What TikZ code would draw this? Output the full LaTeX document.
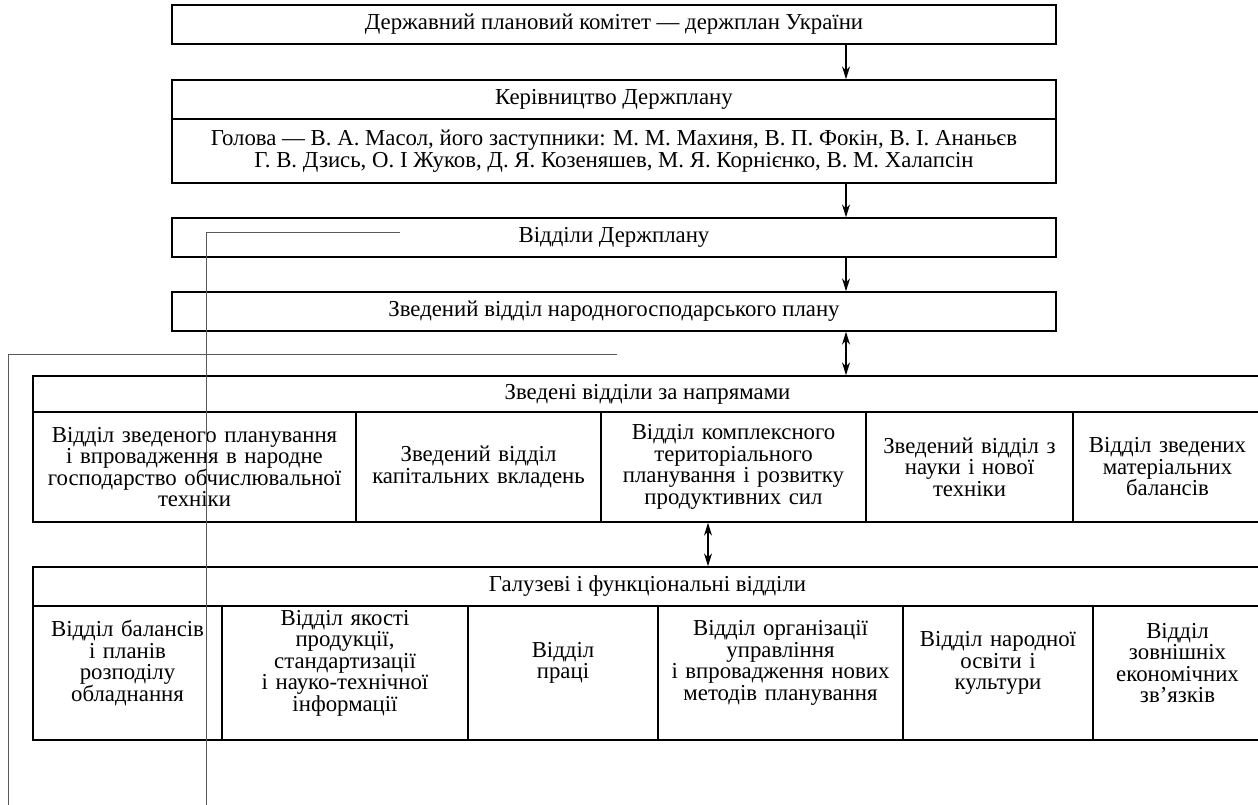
\documentclass[tikz,border=0pt]{standalone}
\usepackage{fontspec}
\setmainfont{Liberation Serif}
\usetikzlibrary{arrows.meta}

\begin{document}
\begin{tikzpicture}[x=1pt, y=-1pt, every node/.style={inner sep=0pt, align=center, font=\fontsize{22.8}{21.5}\selectfont}, box/.style={draw, line width=1.4pt, minimum width=884pt, minimum height=39pt}, cell/.style={draw, line width=1.4pt}, arr/.style={line width=1.4pt, -{Stealth[length=13pt, width=8pt]}}, both/.style={line width=1.4pt, {Stealth[length=13pt, width=8pt]}-{Stealth[length=13pt, width=8pt]}}, guide/.style={line width=0.9pt, black!65}]
    \useasboundingbox (0,0) rectangle (1258,805);

    \node[box] (plan) at (614,24.5) {Державний плановий комітет — держплан України};
    \node[box] (lead) at (614,99.5) {Керівництво Держплану};
    \node[box, minimum height=64pt] (names) at (614,151) {Голова — В. А. Масол, його заступники: М. М. Махиня, В. П. Фокін, В. І. Ананьєв\\Г. В. Дзись, О. І Жуков, Д. Я. Козеняшев, М. Я. Корнієнко, В. М. Халапсін};
    \node[box] (depts) at (614,237.5) {Відділи Держплану};
    \node[box] (summary) at (614,311.5) {Зведений відділ народногосподарського плану};

    % summary departments by direction
    \node[cell, minimum width=1229pt, minimum height=36pt] (dirs) at (647.5,394) {Зведені відділи за напрямами};
    \node[cell, minimum width=323pt, minimum height=110pt, text width=314pt] (comp) at (194.5,467) {Відділ зведеного планування\\і впровадження в народне\\господарство обчислювальної\\техніки};
    \node[cell, minimum width=245pt, minimum height=110pt, text width=235pt] (capital) at (478.5,467) {Зведений відділ\\капітальних вкладень};
    \node[cell, minimum width=265pt, minimum height=110pt, text width=255pt] (terr) at (733.5,467) {Відділ комплексного\\територіального\\планування і розвитку\\продуктивних сил};
    \node[cell, minimum width=207pt, minimum height=110pt, text width=197pt] (science) at (969.5,467) {Зведений відділ з\\науки і нової\\техніки};
    \node[cell, minimum width=189pt, minimum height=110pt, text width=180pt] (material) at (1167.5,467) {Відділ зведених\\матеріальних\\балансів};

    % branch and functional departments
    \node[cell, minimum width=1229pt, minimum height=39pt] (branch) at (647.5,586.5) {Галузеві і функціональні відділи};
    \node[cell, minimum width=189pt, minimum height=134pt] (equip) at (127.5,673) {};
    \node[cell, minimum width=246pt, minimum height=134pt] (quality) at (345,673) {};
    \node[cell, minimum width=190pt, minimum height=134pt] (labour) at (563,673) {};
    \node[cell, minimum width=245pt, minimum height=134pt] (manage) at (780.5,673) {};
    \node[cell, minimum width=190pt, minimum height=134pt] (culture) at (998,673) {};
    \node[cell, minimum width=169pt, minimum height=134pt] (foreign) at (1177.5,673) {};
    \node[text width=184pt] (equiptext) at (127.5,663) {Відділ балансів\\і планів\\розподілу\\обладнання};
    \node[text width=236pt] (qualitytext) at (345,663) {Відділ якості\\продукції,\\стандартизації\\і науко-технічної\\інформації};
    \node[text width=180pt] (labourtext) at (563,663) {Відділ\\праці};
    \node[text width=235pt] (managetext) at (780.5,663) {Відділ організації\\управління\\і впровадження нових\\методів планування};
    \node[text width=180pt] (culturetext) at (998,663) {Відділ народної\\освіти і\\культури};
    \node[text width=160pt] (foreigntext) at (1177.5,663) {Відділ\\зовнішніх\\економічних\\зв’язків};

    \coordinate (ax) at (846,0);
    \coordinate (bx) at (708,0);
    \draw[arr] (plan.south -| ax) -- (lead.north -| ax);
    \draw[arr] (names.south -| ax) -- (depts.north -| ax);
    \draw[arr] (depts.south -| ax) -- (summary.north -| ax);
    \draw[both] (summary.south -| ax) -- (dirs.north -| ax);
    \draw[both] (terr.south -| bx) -- (branch.north -| bx);

    % thin guide lines
    \coordinate (g1) at (400,232);
    \coordinate (g1c) at (206,232);
    \coordinate (g1e) at (206,810);
    \coordinate (g2) at (617,354);
    \coordinate (g2c) at (8,354);
    \coordinate (g2e) at (8,810);
    \draw[guide] (g1) -- (g1c) -- (g1e);
    \draw[guide] (g2) -- (g2c) -- (g2e);
\end{tikzpicture}
\end{document}
